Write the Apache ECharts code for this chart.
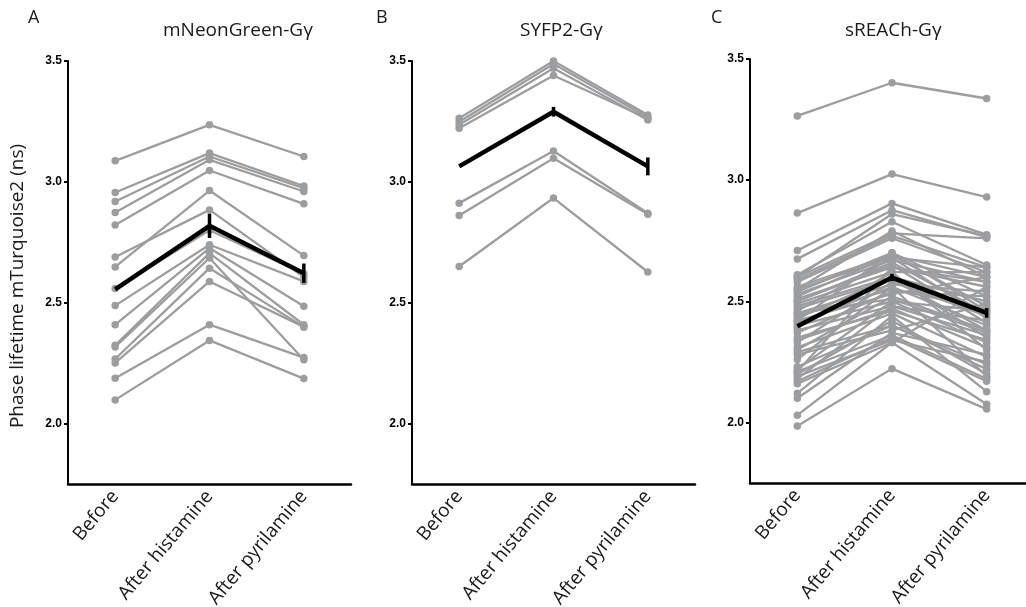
<!DOCTYPE html>
<html>
<head>
<meta charset="UTF-8">
<title>Phase lifetime mTurquoise2</title>
<script src="https://cdn.jsdelivr.net/npm/echarts@6/dist/echarts.min.js"></script>
<style>
  html, body { margin: 0; padding: 0; background: #fff; }
  #main { width: 1026px; height: 607px; }
</style>
</head>
<body>
<div id="main"></div>
<script>
  const categories = ['Before', 'After histamine', 'After pyrilamine'];
  const yTicks = [2.0, 2.5, 3.0, 3.5];
  const yName = 'Phase lifetime mTurquoise2 (ns)';

  // A: mNeonGreen-Gγ, one entry per cell
  const neonBefore    = [3.087, 2.956, 2.919, 2.873, 2.822, 2.689, 2.648, 2.559, 2.488, 2.409, 2.324, 2.317, 2.267, 2.251, 2.188, 2.098];
  const neonHistamine = [3.236, 3.119, 3.105, 3.091, 3.047, 2.884, 2.964, 2.800, 2.740, 2.726, 2.705, 2.685, 2.643, 2.588, 2.409, 2.344];
  const neonPyrilamine = [3.105, 2.983, 2.974, 2.960, 2.909, 2.606, 2.695, 2.620, 2.588, 2.485, 2.409, 2.264, 2.400, 2.400, 2.273, 2.186];
  const neonMean = [2.555, 2.818, 2.622];
  const neonSem  = [null, 0.05, 0.04];

  // B: SYFP2-Gγ
  const syfpBefore    = [3.263, 3.249, 3.236, 3.222, 2.912, 2.861, 2.650];
  const syfpHistamine = [3.500, 3.488, 3.470, 3.440, 3.128, 3.098, 2.933];
  const syfpPyrilamine = [3.277, 3.267, 3.256, 3.262, 2.870, 2.866, 2.627];
  const syfpMean = [3.064, 3.290, 3.064];
  const syfpSem  = [null, 0.02, 0.037];

  // C: sREACh-Gγ
  const reachBefore = [3.265, 2.864, 2.710, 2.675, 2.610, 2.600, 2.590, 2.580, 2.560, 2.550,
                       2.540, 2.530, 2.520, 2.510, 2.500, 2.490, 2.480, 2.470, 2.460, 2.450,
                       2.440, 2.430, 2.420, 2.410, 2.400, 2.390, 2.380, 2.370, 2.350, 2.330,
                       2.310, 2.300, 2.290, 2.280, 2.220, 2.210, 2.200, 2.190, 2.180, 2.170,
                       2.160, 2.120, 2.100, 2.030, 1.985, 2.550, 2.500, 2.420, 2.340, 2.230,
                       2.600, 2.260, 2.450, 2.210];
  const reachHistamine = [3.402, 3.025, 2.904, 2.876, 2.828, 2.780, 2.770, 2.760, 2.690, 2.680,
                          2.700, 2.670, 2.690, 2.640, 2.660, 2.620, 2.600, 2.590, 2.680, 2.570,
                          2.550, 2.600, 2.530, 2.560, 2.500, 2.620, 2.480, 2.540, 2.460, 2.580,
                          2.450, 2.520, 2.400, 2.380, 2.500, 2.360, 2.420, 2.340, 2.480, 2.350,
                          2.330, 2.440, 2.370, 2.330, 2.222, 2.790, 2.650, 2.700, 2.470, 2.400,
                          2.860, 2.560, 2.510, 2.640];
  const reachPyrilamine = [3.337, 2.930, 2.775, 2.765, 2.650, 2.760, 2.640, 2.620, 2.600, 2.640,
                           2.520, 2.580, 2.480, 2.560, 2.450, 2.620, 2.500, 2.380, 2.430, 2.540,
                           2.470, 2.350, 2.600, 2.400, 2.460, 2.300, 2.420, 2.520, 2.340, 2.440,
                           2.270, 2.380, 2.220, 2.490, 2.330, 2.180, 2.200, 2.250, 2.360, 2.170,
                           2.560, 2.127, 2.280, 2.075, 2.055, 2.600, 2.410, 2.460, 2.310, 2.240,
                           2.770, 2.190, 2.370, 2.580];
  const reachMean = [2.397, 2.598, 2.452];
  const reachSem  = [null, 0.015, 0.02];

  const panels = [
    { letter: 'A', name: 'mNeonGreen-Gγ', before: neonBefore, hist: neonHistamine, pyr: neonPyrilamine, mean: neonMean, sem: neonSem,
      grid: { left: 68, top: 61, width: 283, bottom: 123 }, letterX: 28, titleX: 163 },
    { letter: 'B', name: 'SYFP2-Gγ', before: syfpBefore, hist: syfpHistamine, pyr: syfpPyrilamine, mean: syfpMean, sem: syfpSem,
      grid: { left: 412, top: 61, width: 283, bottom: 123 }, letterX: 376, titleX: 520 },
    { letter: 'C', name: 'sREACh-Gγ', before: reachBefore, hist: reachHistamine, pyr: reachPyrilamine, mean: reachMean, sem: reachSem,
      grid: { left: 750, top: 59, width: 284, bottom: 124 }, letterX: 711, titleX: 845 }
  ];

  const grey = '#9c9d9f';
  const textFont = 'Open Sans';

  const grids = [], xAxes = [], yAxes = [], series = [], titles = [];

  panels.forEach((p, i) => {
    // keep the plot box where it is; labels may run to the page edge
    grids.push(Object.assign({ outerBoundsMode: 'none', containLabel: false }, p.grid));
    xAxes.push({
      gridIndex: i,
      type: 'category',
      data: categories,
      boundaryGap: true,
      axisLine: { lineStyle: { color: '#000', width: 2.5 } },
      axisTick: { alignWithLabel: true, length: 6, lineStyle: { color: '#000', width: 2 } },
      axisLabel: { rotate: 50, fontSize: 19, color: '#1a1a1a', fontFamily: textFont, margin: 9, interval: 0 }
    });
    yAxes.push({
      gridIndex: i,
      type: 'value',
      min: 1.75,
      max: 3.5,
      splitLine: { show: false },
      axisLine: { show: true, lineStyle: { color: '#000', width: 2 } },
      axisTick: { show: true, length: 4, customValues: yTicks, lineStyle: { color: '#000', width: 2 } },
      axisLabel: {
        customValues: yTicks,
        formatter: v => v.toFixed(1),
        fontSize: 12, fontWeight: 'bold', color: '#000', margin: 6, fontFamily: 'Liberation Sans'
      }
    });
    titles.push({ text: p.letter, left: p.letterX, top: 9, padding: 0,
      textStyle: { fontSize: 18, fontWeight: 'normal', color: '#1a1a1a', fontFamily: textFont } });
    titles.push({ text: p.name, left: p.titleX, top: 21, padding: 0,
      textStyle: { fontSize: 19, fontWeight: 'normal', color: '#1a1a1a', fontFamily: textFont } });

    // one grey line per cell
    p.before.forEach((b, k) => {
      series.push({
        type: 'line',
        xAxisIndex: i, yAxisIndex: i,
        data: [b, p.hist[k], p.pyr[k]],
        symbol: 'circle', symbolSize: 7.5,
        lineStyle: { color: grey, width: 2.3 },
        itemStyle: { color: grey },
        silent: true, animation: false, z: 2
      });
    });

    // mean
    series.push({
      type: 'line',
      xAxisIndex: i, yAxisIndex: i,
      data: p.mean,
      symbol: 'none',
      lineStyle: { color: '#000', width: 4.5 },
      silent: true, animation: false, z: 5
    });

    // SEM bars
    const bars = [];
    p.sem.forEach((s, k) => { if (s) bars.push([k, p.mean[k] - s, p.mean[k] + s]); });
    series.push({
      type: 'custom',
      xAxisIndex: i, yAxisIndex: i,
      data: bars,
      z: 6, silent: true, animation: false,
      renderItem: function(params, api) {
        const lo = api.coord([api.value(0), api.value(1)]);
        const hi = api.coord([api.value(0), api.value(2)]);
        return { type: 'line', shape: { x1: lo[0], y1: lo[1], x2: hi[0], y2: hi[1] },
                 style: { stroke: '#000', lineWidth: 3.5 } };
      }
    });
  });

  const chart = echarts.init(document.getElementById('main'), null, { renderer: 'canvas' });
  chart.setOption({
    animation: false,
    backgroundColor: '#fff',
    title: titles,
    graphic: [{
      type: 'text',
      x: 18, y: 286,
      rotation: Math.PI / 2,
      style: { text: yName, fontSize: 19, fill: '#1a1a1a', fontFamily: textFont,
               align: 'center', verticalAlign: 'middle' }
    }],
    grid: grids,
    xAxis: xAxes,
    yAxis: yAxes,
    series: series
  });
</script>
</body>
</html>
